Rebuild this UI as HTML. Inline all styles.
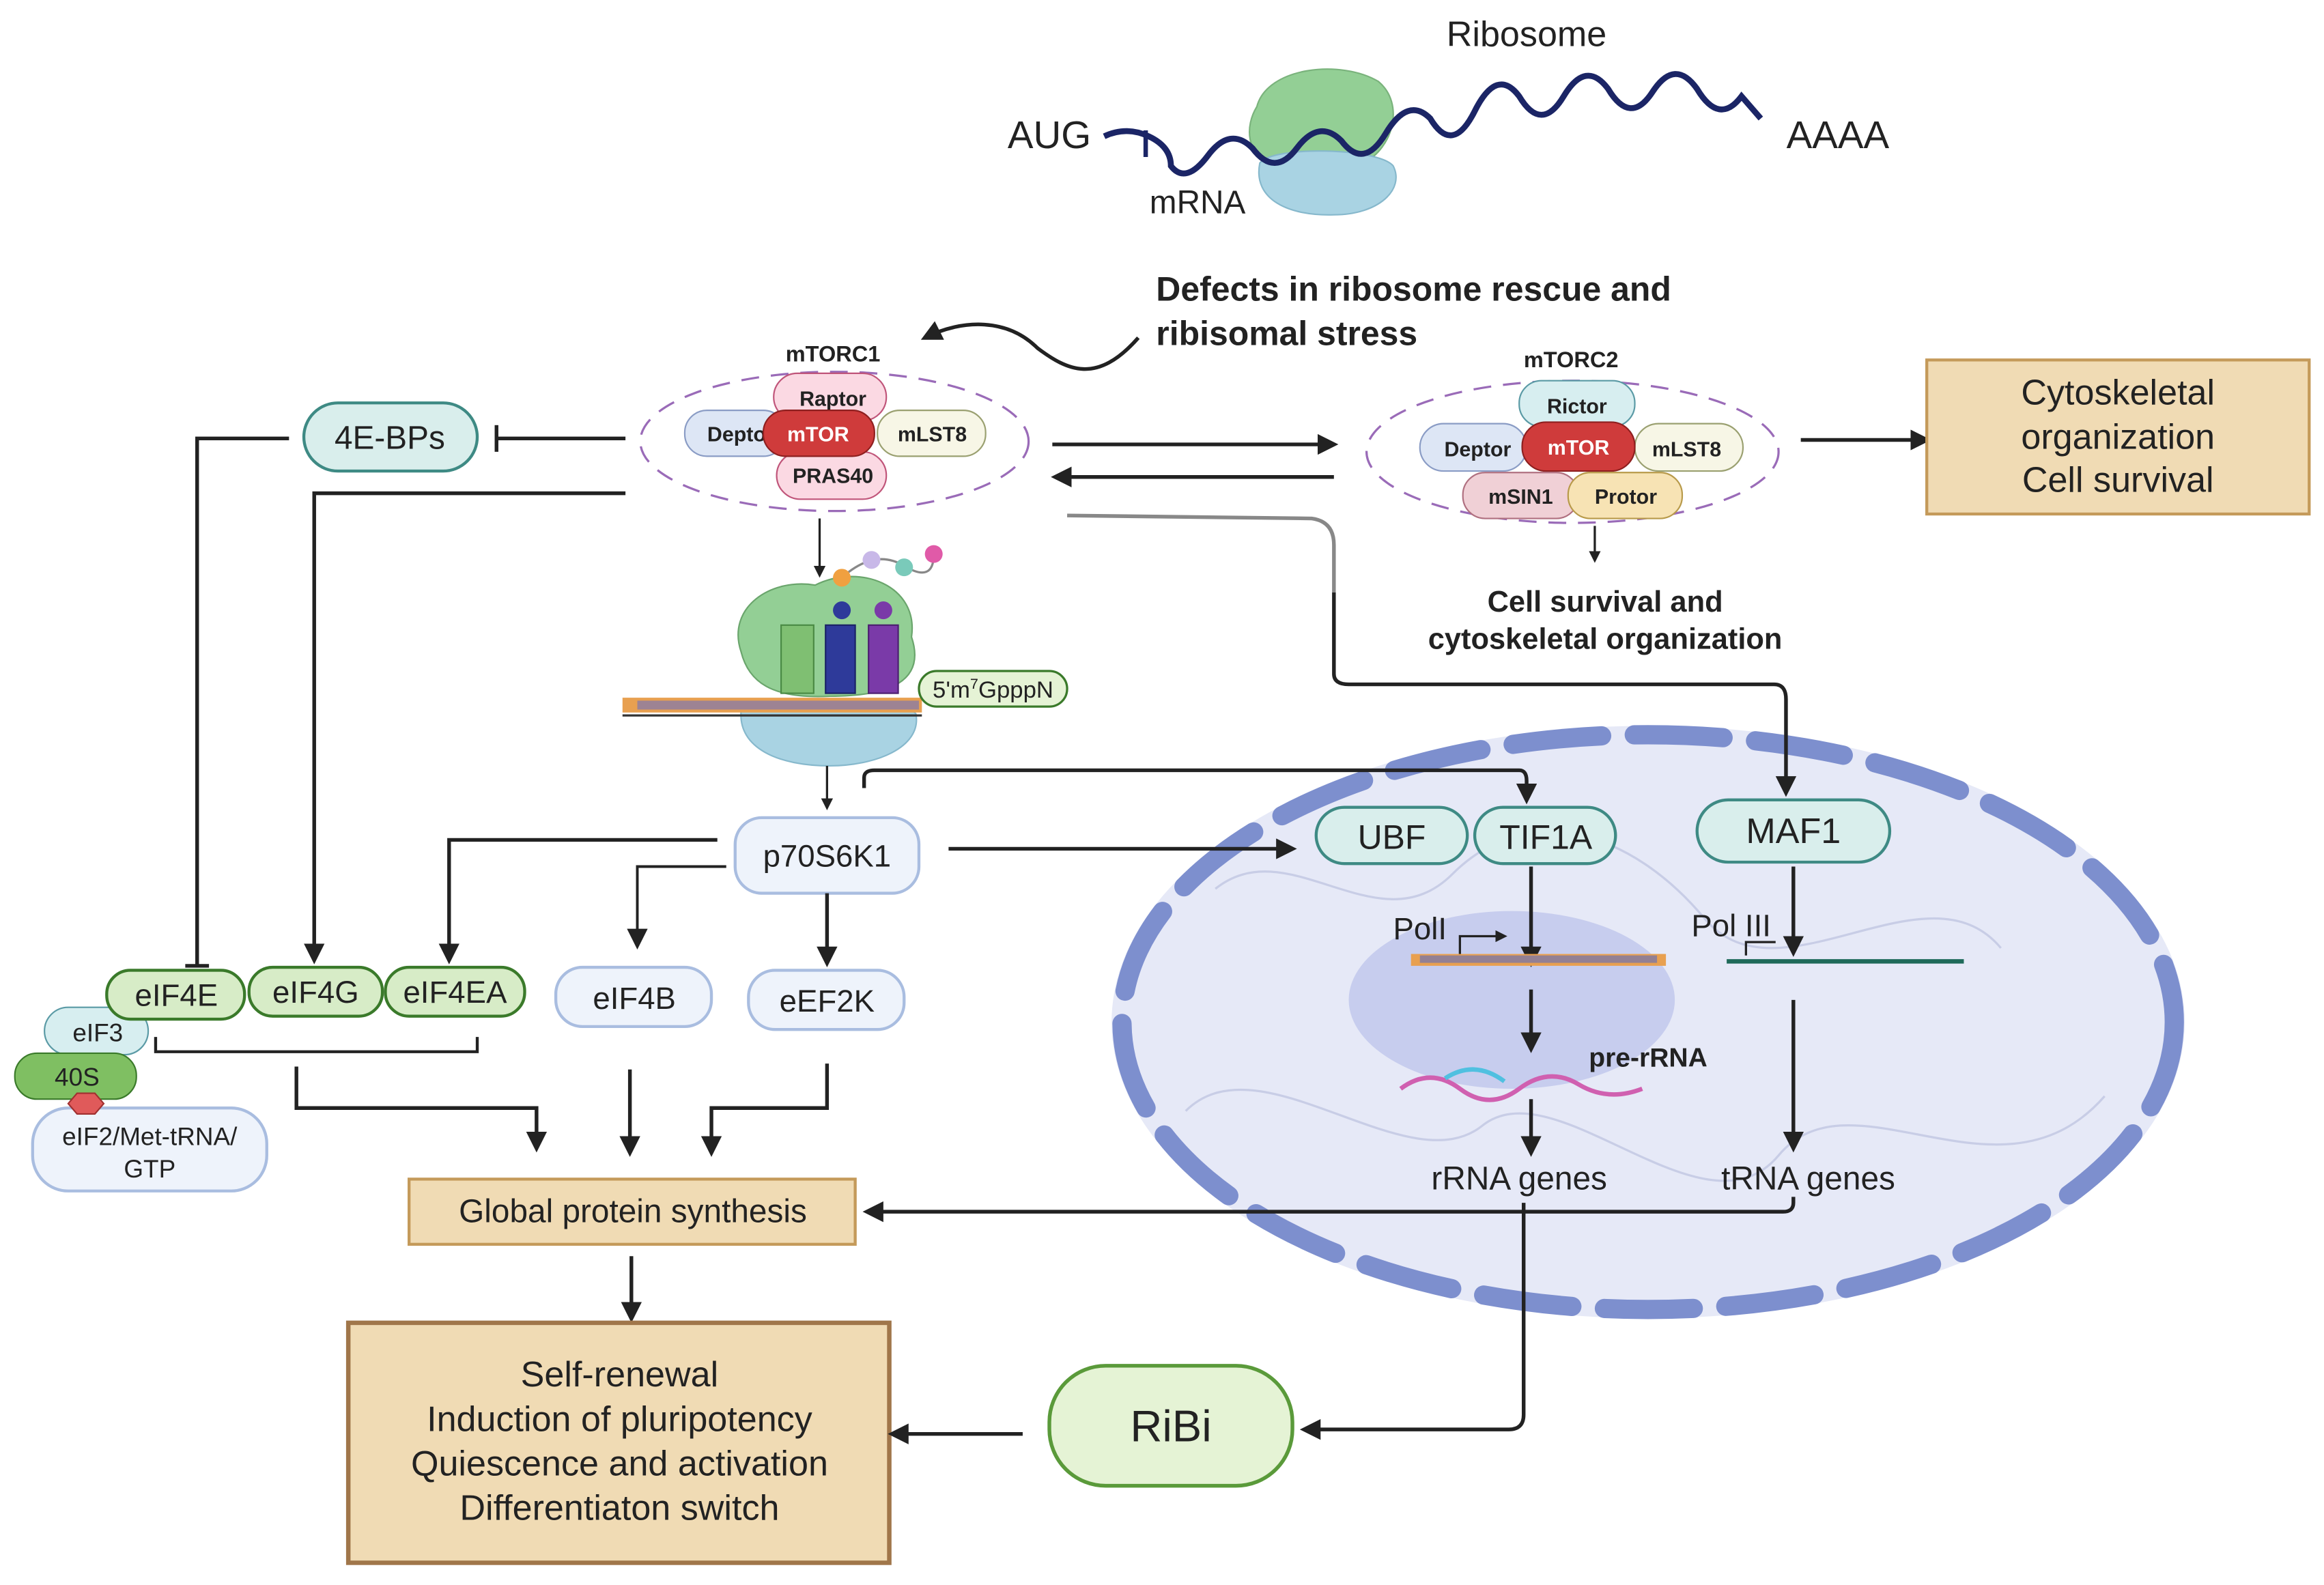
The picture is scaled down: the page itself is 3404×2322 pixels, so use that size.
<!DOCTYPE html>
<html><head><meta charset="utf-8"><style>
html,body{margin:0;padding:0;background:#fff;}
svg{display:block;}
text{font-family:"Liberation Sans",sans-serif;fill:#222;}
</style></head><body>
<svg width="3404" height="2322" viewBox="0 0 1568 1070" preserveAspectRatio="none" xmlns="http://www.w3.org/2000/svg">
<defs>
<marker id="a" markerWidth="8" markerHeight="8" refX="6" refY="4" orient="auto" markerUnits="userSpaceOnUse"><path d="M0,0 L8,4 L0,8 z" fill="#222"/></marker>
<marker id="A" markerWidth="14" markerHeight="14" refX="11" refY="7" orient="auto" markerUnits="userSpaceOnUse"><path d="M0,0 L14,7 L0,14 z" fill="#222"/></marker>
</defs>
<rect width="1568" height="1070" fill="#fff"/>

<!-- nucleus (background) -->
<ellipse cx="1112" cy="690" rx="362" ry="200" fill="#e6e9f7"/>
<ellipse cx="1112" cy="690" rx="355" ry="194" fill="none" stroke="#7d8fce" stroke-width="13" stroke-dasharray="60,22" stroke-linecap="round"/>
<path d="M820,600 C870,560 930,640 980,590 S1100,560 1150,620 S1300,580 1350,640 M800,750 C850,700 950,800 1000,760 S1150,840 1200,780 S1350,820 1420,740" fill="none" stroke="#c8cde6" stroke-width="1.5"/>
<ellipse cx="1020" cy="675" rx="110" ry="60" fill="#c7cdee"/>

<!-- top ribosome -->
<path d="M848,72 C855,45 905,40 930,55 C948,70 940,100 920,110 L860,112 C840,105 840,85 848,72z" fill="#93cf95" stroke="#7ab37c"/>
<path d="M850,110 C860,98 930,100 940,112 C948,128 930,145 900,145 C870,146 845,135 850,110z" fill="#a9d3e3" stroke="#86b8cc"/>
<path d="M745,92 Q760,85 775,92 T790,112 Q800,125 815,105 T845,100 Q860,120 875,100 T905,95 Q920,115 935,90 T965,80 Q980,105 995,75 T1025,65 Q1040,90 1055,65 T1085,60 Q1100,85 1115,62 T1145,60 Q1160,85 1175,65 L1188,80" fill="none" stroke="#1b2566" stroke-width="4"/>
<line x1="773" y1="88" x2="773" y2="106" stroke="#1b2566" stroke-width="3"/>
<text x="1030" y="31" font-size="24" text-anchor="middle">Ribosome</text>
<text x="708" y="100" font-size="26" text-anchor="middle">AUG</text>
<text x="1240" y="100" font-size="26" text-anchor="middle">AAAA</text>
<text x="808" y="144" font-size="22" text-anchor="middle">mRNA</text>

<text x="780" y="203" font-size="23" font-weight="bold">Defects in ribosome rescue and</text>
<text x="780" y="233" font-size="23" font-weight="bold">ribisomal stress</text>
<path d="M768,228 C740,260 720,250 700,235 C680,215 650,215 624,228" fill="none" stroke="#222" stroke-width="2.5" marker-end="url(#A)"/>

<!-- mTORC1 -->
<ellipse cx="563" cy="298" rx="131" ry="47" fill="none" stroke="#9a6bb8" stroke-width="1.5" stroke-dasharray="12,8"/>
<text x="562" y="244" font-size="15" font-weight="bold" text-anchor="middle">mTORC1</text>
<rect x="522" y="252" width="76" height="32" rx="16" fill="#fbd9e3" stroke="#c0557a"/>
<text x="562" y="274" font-size="14" font-weight="bold" text-anchor="middle">Raptor</text>
<rect x="524" y="305" width="74" height="32" rx="16" fill="#fbd9e3" stroke="#c0557a"/>
<text x="562" y="326" font-size="14" font-weight="bold" text-anchor="middle">PRAS40</text>
<rect x="462" y="277" width="68" height="31" rx="15" fill="#dde6f5" stroke="#8a9cc5"/>
<text x="497" y="298" font-size="14" font-weight="bold" text-anchor="middle">Depto</text>
<rect x="592" y="277" width="73" height="31" rx="15" fill="#f7f6e6" stroke="#9aa070"/>
<text x="629" y="298" font-size="14" font-weight="bold" text-anchor="middle">mLST8</text>
<rect x="515" y="277" width="75" height="31" rx="15" fill="#cf3b3b" stroke="#8e1f1f"/>
<text x="552" y="298" font-size="14" font-weight="bold" text-anchor="middle" style="fill:#fff">mTOR</text>

<!-- mTORC2 -->
<ellipse cx="1061" cy="305" rx="139" ry="48" fill="none" stroke="#9a6bb8" stroke-width="1.5" stroke-dasharray="12,8"/>
<text x="1060" y="248" font-size="15" font-weight="bold" text-anchor="middle">mTORC2</text>
<rect x="1025" y="257" width="78" height="31" rx="15" fill="#d7eef0" stroke="#5a9aa5"/>
<text x="1064" y="279" font-size="14" font-weight="bold" text-anchor="middle">Rictor</text>
<rect x="958" y="286" width="72" height="32" rx="16" fill="#dde6f5" stroke="#8a9cc5"/>
<text x="997" y="308" font-size="14" font-weight="bold" text-anchor="middle">Deptor</text>
<rect x="1103" y="286" width="73" height="32" rx="16" fill="#f7f6e6" stroke="#9aa070"/>
<text x="1138" y="308" font-size="14" font-weight="bold" text-anchor="middle">mLST8</text>
<rect x="1027" y="285" width="76" height="33" rx="16" fill="#cf3b3b" stroke="#8e1f1f"/>
<text x="1065" y="307" font-size="14" font-weight="bold" text-anchor="middle" style="fill:#fff">mTOR</text>
<rect x="987" y="319" width="78" height="31" rx="15" fill="#f0d0d6" stroke="#b07080"/>
<text x="1026" y="340" font-size="14" font-weight="bold" text-anchor="middle">mSIN1</text>
<rect x="1058" y="319" width="77" height="31" rx="15" fill="#f7e3b4" stroke="#b89a4a"/>
<text x="1097" y="340" font-size="14" font-weight="bold" text-anchor="middle">Protor</text>

<line x1="710" y1="300" x2="900" y2="300" stroke="#222" stroke-width="2.5" marker-end="url(#A)"/>
<line x1="900" y1="322" x2="712" y2="322" stroke="#222" stroke-width="2.5" marker-end="url(#A)"/>
<line x1="1215" y1="297" x2="1300" y2="297" stroke="#222" stroke-width="2.5" marker-end="url(#A)"/>
<rect x="1300" y="243" width="258" height="104" fill="#f0dbb4" stroke="#c49a5a" stroke-width="2"/>
<text x="1429" y="273" font-size="24" text-anchor="middle">Cytoskeletal</text>
<text x="1429" y="303" font-size="24" text-anchor="middle">organization</text>
<text x="1429" y="332" font-size="24" text-anchor="middle">Cell survival</text>
<line x1="1076" y1="355" x2="1076" y2="378" stroke="#222" stroke-width="1.5" marker-end="url(#a)"/>
<text x="1083" y="413" font-size="20" font-weight="bold" text-anchor="middle">Cell survival and</text>
<text x="1083" y="438" font-size="20" font-weight="bold" text-anchor="middle">cytoskeletal organization</text>

<!-- 4E-BPs -->
<rect x="205" y="272" width="117" height="46" rx="23" fill="#d9eeec" stroke="#3e8a84" stroke-width="2"/>
<text x="263" y="303" font-size="22" text-anchor="middle">4E-BPs</text>
<line x1="422" y1="296" x2="335" y2="296" stroke="#222" stroke-width="2.5"/>
<line x1="335" y1="287" x2="335" y2="305" stroke="#222" stroke-width="2.5"/>
<path d="M195,296 H133 V652" fill="none" stroke="#222" stroke-width="2.5"/>
<line x1="125" y1="652" x2="141" y2="652" stroke="#222" stroke-width="2.5"/>
<path d="M422,333 H212 V648" fill="none" stroke="#222" stroke-width="2.5" marker-end="url(#A)"/>
<line x1="553" y1="350" x2="553" y2="388" stroke="#222" stroke-width="1.5" marker-end="url(#a)"/>

<!-- translation complex -->
<path d="M500,440 C490,410 520,390 550,395 C580,380 620,395 615,430 C625,460 600,470 560,470 C520,472 505,460 500,440z" fill="#93cf95" stroke="#6aa56c"/>
<path d="M500,480 C505,470 610,470 618,482 C622,505 590,517 560,517 C525,517 498,505 500,480z" fill="#a9d3e3" stroke="#86b8cc"/>
<rect x="527" y="422" width="22" height="46" fill="#7fbf72" stroke="#4a8a44"/>
<rect x="557" y="422" width="20" height="46" fill="#2e3a9a" stroke="#1a2266"/>
<rect x="586" y="422" width="20" height="46" fill="#7a3aa8" stroke="#4c1f70"/>
<circle cx="568" cy="412" r="6" fill="#2e3a9a"/><circle cx="596" cy="412" r="6" fill="#7a3aa8"/>
<path d="M568,390 Q590,370 610,382 T630,374" fill="none" stroke="#888" stroke-width="1.5"/>
<circle cx="568" cy="390" r="6" fill="#f0a040"/><circle cx="588" cy="378" r="6" fill="#c8b8e8"/><circle cx="610" cy="383" r="6" fill="#7acaba"/><circle cx="630" cy="374" r="6" fill="#e05aa8"/>
<rect x="420" y="471" width="202" height="10" fill="#e8a050"/>
<rect x="430" y="473" width="190" height="6" fill="#6a70c0" opacity="0.6"/>
<line x1="420" y1="483" x2="622" y2="483" stroke="#333" stroke-width="1.5"/>
<rect x="620" y="453" width="100" height="24" rx="12" fill="#e5f3d5" stroke="#3a7a2a" stroke-width="1.5"/>
<text x="670" y="471" font-size="16" text-anchor="middle">5'm<tspan font-size="10" dy="-6">7</tspan><tspan dy="6">GpppN</tspan></text>
<line x1="558" y1="517" x2="558" y2="545" stroke="#222" stroke-width="1.5" marker-end="url(#a)"/>

<!-- grey connector to MAF1 -->
<path d="M720,348 L885,350 Q900,352 900,368 V400" fill="none" stroke="#888" stroke-width="2.5"/>
<path d="M900,400 V455 Q900,462 910,462 H1197 Q1205,462 1205,472 V535" fill="none" stroke="#222" stroke-width="2.5" marker-end="url(#A)"/>

<!-- p70S6K1 -->
<rect x="496" y="552" width="124" height="51" rx="18" fill="#eef3fb" stroke="#a9bde0" stroke-width="2"/>
<text x="558" y="585" font-size="21" text-anchor="middle">p70S6K1</text>
<path d="M484,567 H303 V648" fill="none" stroke="#222" stroke-width="2.5" marker-end="url(#A)"/>
<path d="M490,585 H430 V638" fill="none" stroke="#222" stroke-width="1.8" marker-end="url(#A)"/>
<line x1="558" y1="603" x2="558" y2="650" stroke="#222" stroke-width="2.5" marker-end="url(#A)"/>
<line x1="640" y1="573" x2="872" y2="573" stroke="#222" stroke-width="2.5" marker-end="url(#A)"/>
<path d="M583,532 V525 Q583,520 590,520 H1025 Q1030,520 1030,527 V540" fill="none" stroke="#222" stroke-width="2.5" marker-end="url(#A)"/>

<!-- eIFs -->
<rect x="30" y="680" width="70" height="32" rx="16" fill="#d7eef0" stroke="#5a9aa5"/>
<text x="66" y="703" font-size="17" text-anchor="middle">eIF3</text>
<rect x="10" y="711" width="82" height="31" rx="15" fill="#7fbf62" stroke="#3a7a2a"/>
<text x="52" y="733" font-size="17" text-anchor="middle">40S</text>
<rect x="22" y="748" width="158" height="56" rx="24" fill="#eef3fb" stroke="#a9bde0" stroke-width="2"/>
<text x="101" y="773" font-size="17" text-anchor="middle">eIF2/Met-tRNA/</text>
<text x="101" y="795" font-size="17" text-anchor="middle">GTP</text>
<polygon points="52,738 64,738 70,745 64,752 52,752 46,745" fill="#e05a5a" stroke="#a03030"/>
<rect x="72" y="655" width="93" height="33" rx="16" fill="#d7ecc7" stroke="#3a7a2a" stroke-width="2"/>
<text x="119" y="679" font-size="21" text-anchor="middle">eIF4E</text>
<rect x="168" y="653" width="90" height="33" rx="16" fill="#d7ecc7" stroke="#3a7a2a" stroke-width="2"/>
<text x="213" y="677" font-size="21" text-anchor="middle">eIF4G</text>
<rect x="260" y="653" width="94" height="33" rx="16" fill="#d7ecc7" stroke="#3a7a2a" stroke-width="2"/>
<text x="307" y="677" font-size="21" text-anchor="middle">eIF4EA</text>
<path d="M105,700 V710 H322 V700" fill="none" stroke="#222" stroke-width="2"/>
<path d="M200,720 V748 H362 V775" fill="none" stroke="#222" stroke-width="2.5" marker-end="url(#A)"/>
<rect x="375" y="653" width="105" height="40" rx="18" fill="#eef3fb" stroke="#a9bde0" stroke-width="2"/>
<text x="428" y="681" font-size="21" text-anchor="middle">eIF4B</text>
<rect x="505" y="655" width="105" height="40" rx="18" fill="#eef3fb" stroke="#a9bde0" stroke-width="2"/>
<text x="558" y="683" font-size="21" text-anchor="middle">eEF2K</text>
<line x1="425" y1="722" x2="425" y2="778" stroke="#222" stroke-width="2.5" marker-end="url(#A)"/>
<path d="M558,718 V748 H480 V778" fill="none" stroke="#222" stroke-width="2.5" marker-end="url(#A)"/>

<rect x="276" y="796" width="301" height="44" fill="#f0dbb4" stroke="#c49a5a" stroke-width="2"/>
<text x="427" y="825" font-size="22" text-anchor="middle">Global protein synthesis</text>
<line x1="426" y1="848" x2="426" y2="890" stroke="#222" stroke-width="2.5" marker-end="url(#A)"/>
<rect x="235" y="893" width="365" height="162" fill="#f0dbb4" stroke="#a0764a" stroke-width="3"/>
<text x="418" y="936" font-size="24" text-anchor="middle">Self-renewal</text>
<text x="418" y="966" font-size="24" text-anchor="middle">Induction of pluripotency</text>
<text x="418" y="996" font-size="24" text-anchor="middle">Quiescence and activation</text>
<text x="418" y="1026" font-size="24" text-anchor="middle">Differentiaton switch</text>
<line x1="690" y1="968" x2="602" y2="968" stroke="#222" stroke-width="2.5" marker-end="url(#A)"/>
<rect x="708" y="922" width="164" height="81" rx="38" fill="#e5f3d5" stroke="#5a9a3a" stroke-width="2.5"/>
<text x="790" y="973" font-size="30" text-anchor="middle">RiBi</text>

<!-- nucleus contents -->
<rect x="888" y="545" width="102" height="38" rx="19" fill="#d9eeec" stroke="#3e8a84" stroke-width="2"/>
<text x="939" y="573" font-size="23" text-anchor="middle">UBF</text>
<rect x="995" y="545" width="95" height="38" rx="19" fill="#d9eeec" stroke="#3e8a84" stroke-width="2"/>
<text x="1043" y="573" font-size="23" text-anchor="middle">TIF1A</text>
<rect x="1145" y="540" width="130" height="42" rx="21" fill="#d9eeec" stroke="#3e8a84" stroke-width="2"/>
<text x="1210" y="569" font-size="24" text-anchor="middle">MAF1</text>
<line x1="1033" y1="585" x2="1033" y2="650" stroke="#222" stroke-width="2.5" marker-end="url(#A)"/>
<line x1="1210" y1="585" x2="1210" y2="643" stroke="#222" stroke-width="2.5" marker-end="url(#A)"/>
<text x="958" y="634" font-size="21" text-anchor="middle">PolI</text>
<path d="M985,645 V632 H1015" fill="none" stroke="#222" stroke-width="1.5" marker-end="url(#a)"/>
<text x="1168" y="632" font-size="21" text-anchor="middle">Pol III</text>
<path d="M1178,645 V636 H1198" fill="none" stroke="#222" stroke-width="1.5"/>
<rect x="952" y="644" width="172" height="8" fill="#e8a050"/>
<rect x="958" y="645" width="160" height="5" fill="#5a6ac0" opacity="0.6"/>
<line x1="1165" y1="649" x2="1325" y2="649" stroke="#1f6a5a" stroke-width="3"/>
<line x1="1033" y1="668" x2="1033" y2="708" stroke="#222" stroke-width="2.5" marker-end="url(#A)"/>
<path d="M945,735 Q965,720 985,735 T1025,735 T1065,732 T1108,735" fill="none" stroke="#d060b0" stroke-width="3"/>
<path d="M975,728 Q995,715 1015,730" fill="none" stroke="#50c0e0" stroke-width="3"/>
<text x="1112" y="720" font-size="18" font-weight="bold" text-anchor="middle">pre-rRNA</text>
<line x1="1033" y1="742" x2="1033" y2="778" stroke="#222" stroke-width="2.5" marker-end="url(#A)"/>
<line x1="1210" y1="675" x2="1210" y2="775" stroke="#222" stroke-width="2.5" marker-end="url(#A)"/>
<text x="1025" y="803" font-size="22" text-anchor="middle">rRNA genes</text>
<text x="1220" y="803" font-size="22" text-anchor="middle">tRNA genes</text>
<path d="M1210,808 V812 Q1210,818 1203,818 H585" fill="none" stroke="#222" stroke-width="2.5" marker-end="url(#A)"/>
<path d="M1028,812 V955 Q1028,965 1018,965 H880" fill="none" stroke="#222" stroke-width="2.5" marker-end="url(#A)"/>
</svg>
</body></html>
